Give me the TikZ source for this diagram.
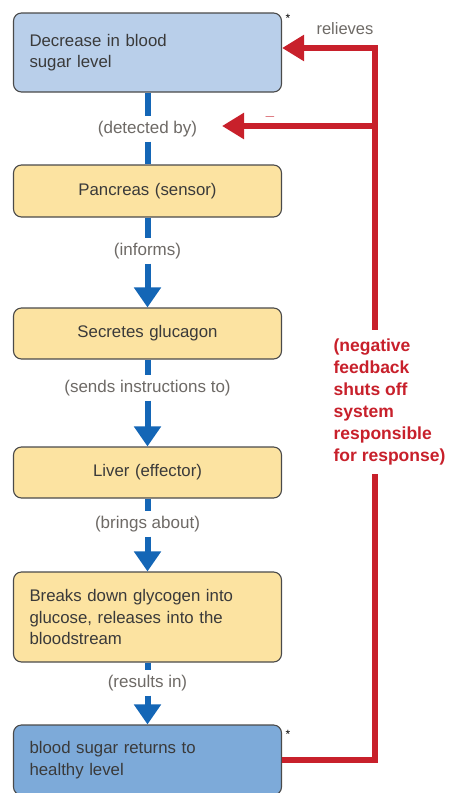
\documentclass[tikz,border=0pt]{standalone}
\usepackage{fontspec}
\setmainfont{Liberation Sans}
\usetikzlibrary{arrows.meta}
\definecolor{lowblue}{HTML}{B9CFEA}
\definecolor{okblue}{HTML}{7DAAD9}
\definecolor{stepyellow}{HTML}{FCE3A1}
\definecolor{boxline}{HTML}{4A4A4A}
\definecolor{boxtext}{HTML}{3A3A3A}
\definecolor{labelgray}{HTML}{6E6A66}
\definecolor{flowblue}{HTML}{1466B6}
\definecolor{fbred}{HTML}{C8202B}
\tikzset{
  box/.style={draw=boxline, line width=1.1pt, rounded corners=8pt,
    minimum width=268pt, text width=236pt, inner xsep=16pt,
    font=\fontsize{16.8}{21.5}\selectfont, text=boxtext},
  lbl/.style={fill=white, inner xsep=6pt, inner ysep=4.5pt, text=labelgray,
    font=\fontsize{17}{19}\selectfont},
  flow/.style={draw=flowblue, line width=6pt},
  flowarrow/.style={flow, -{Triangle[width=26pt,length=20pt]}},
  fb/.style={draw=fbred, line width=6pt, -{Triangle[width=25pt,length=22pt]}},
}
\begin{document}
\begin{tikzpicture}[x=1pt, y=-1pt]
\useasboundingbox (0,0) rectangle (449,793);
% boxes
\node[box, fill=lowblue, align=left, minimum height=79pt] (P_1) at (147.5,52.5) {Decrease in blood\\sugar level};
\node[box, fill=stepyellow, align=center, minimum height=52pt] (P_2) at (147.5,191) {Pancreas (sensor)};
\node[box, fill=stepyellow, align=center, minimum height=51pt] (P_3) at (147.5,333.5) {Secretes glucagon};
\node[box, fill=stepyellow, align=center, minimum height=51pt] (P_4) at (147.5,472.5) {Liver (effector)};
\node[box, fill=stepyellow, align=left, minimum height=90pt] (P_5) at (147.5,617) {Breaks down glycogen into\\glucose, releases into the\\bloodstream};
\node[box, fill=okblue, align=left, minimum height=70pt] (P_6) at (147.5,760) {blood sugar returns to\\healthy level};
% labels on the flow
\node[lbl] (L_1) at (147.5,129) {(detected by)};
\node[lbl] (L_2) at (147.5,251) {(informs)};
\node[lbl] (L_3) at (147.5,388) {(sends instructions to)};
\node[lbl] (L_4) at (147.5,524) {(brings about)};
\node[lbl] (L_5) at (147.5,683) {(results in)};
\draw[flow] (P_1) -- (L_1);
\draw[flow] (L_1) -- (P_2);
\draw[flow] (P_2) -- (L_2);
\draw[flowarrow] (L_2) -- (P_3);
\draw[flow] (P_3) -- (L_3);
\draw[flowarrow] (L_3) -- (P_4);
\draw[flow] (P_4) -- (L_4);
\draw[flowarrow] (L_4) -- (P_5);
\draw[flow] (P_5) -- (L_5);
\draw[flowarrow] (L_5) -- (P_6);
% feedback loop
\coordinate (R_top) at (375,48);
\coordinate (R_mid) at (375,126);
\coordinate (R_tip) at (222,126);
\draw[fb] (P_6.east) -| (R_top) -- (P_1.east |- R_top);
\draw[fb] (R_mid) -- (R_tip);
\node[fill=white, text=fbred, align=left, inner xsep=2pt, inner ysep=9pt,
  font=\fontsize{17.5}{22}\bfseries] (F) at (389.5,402) {(negative\\feedback\\shuts off\\system\\responsible\\for response)};
\node[text=labelgray, font=\fontsize{16.5}{18}\selectfont] (T_rel) at (345,29) {relieves};
\node[text=fbred, font=\fontsize{14}{16}\selectfont] (T_minus) at (270,117) {$-$};
\node[font=\fontsize{12}{12}\selectfont] (S_1) at (288,18) {*};
\node[font=\fontsize{12}{12}\selectfont] (S_2) at (288,734) {*};
\end{tikzpicture}
\end{document}
